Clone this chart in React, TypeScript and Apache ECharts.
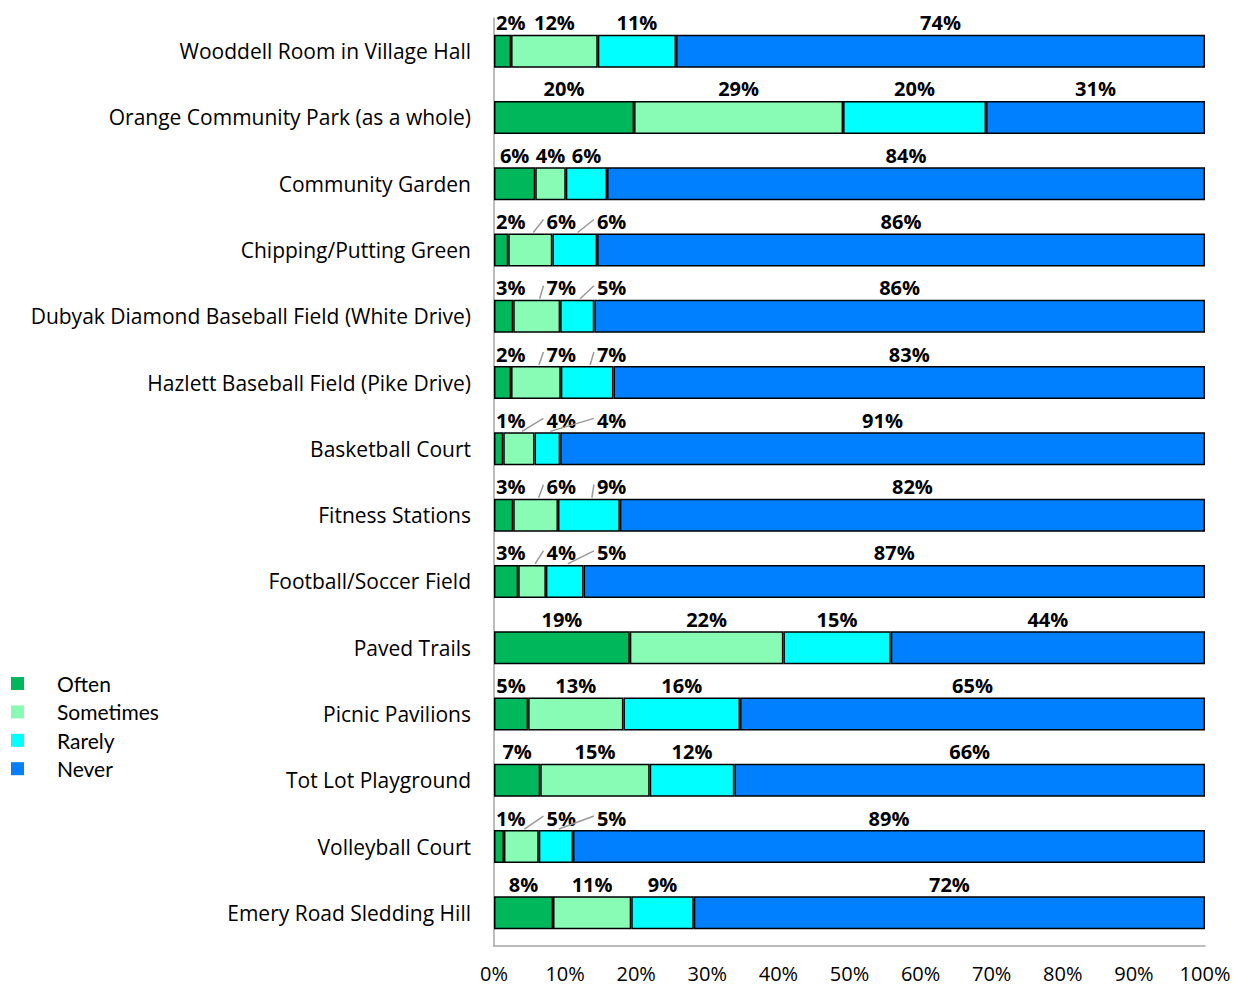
import React, { useEffect, useRef } from "react";
import * as echarts from "echarts";

const categories = [
  "Wooddell Room in Village Hall",
  "Orange Community Park (as a whole)",
  "Community Garden",
  "Chipping/Putting Green",
  "Dubyak Diamond Baseball Field (White Drive)",
  "Hazlett Baseball Field (Pike Drive)",
  "Basketball Court",
  "Fitness Stations",
  "Football/Soccer Field",
  "Paved Trails",
  "Picnic Pavilions",
  "Tot Lot Playground",
  "Volleyball Court",
  "Emery Road Sledding Hill",
];

const seriesNames = ["Often", "Sometimes", "Rarely", "Never"];
const often = [2.4, 19.7, 5.8, 2.0, 2.7, 2.4, 1.3, 2.7, 3.4, 19.1, 4.8, 6.5, 1.4, 8.3];
const sometimes = [12.2, 29.4, 4.3, 6.2, 6.6, 7.0, 4.4, 6.3, 3.9, 21.6, 13.4, 15.4, 4.9, 11.0];
const rarely = [11.0, 20.1, 5.8, 6.3, 4.8, 7.4, 3.6, 8.7, 5.3, 15.1, 16.4, 11.9, 4.8, 8.8];
const never = [74.4, 30.8, 84.1, 85.5, 85.9, 83.2, 90.7, 82.3, 87.4, 44.2, 65.4, 66.2, 88.9, 71.9];
const xTicks = [0, 10, 20, 30, 40, 50, 60, 70, 80, 90, 100];

const colors = ["#00B85C", "#88FBB4", "#00FFFF", "#007FFF"];
const values = [often, sometimes, rarely, never];

const BAR_H = 33;
const LABEL_FONT = 'bold 20px "Open Sans"';

let measureCtx: CanvasRenderingContext2D | null = null;
function measure(text: string): number {
  if (!measureCtx) {
    const c = document.createElement("canvas");
    measureCtx = c.getContext("2d");
  }
  if (!measureCtx) return text.length * 11;
  measureCtx.font = LABEL_FONT;
  return measureCtx.measureText(text).width;
}

export default function App() {
  const ref = useRef<HTMLDivElement>(null);

  useEffect(() => {
    if (!ref.current) return;
    const chart = echarts.init(ref.current, undefined, { renderer: "svg" });

    const barSeries = seriesNames.map((name, k) => ({
      name,
      type: "bar",
      stack: "total",
      barWidth: BAR_H,
      data: values[k],
      itemStyle: { color: colors[k], borderColor: "#000", borderWidth: 1.5 },
      label: { show: false },
      emphasis: { disabled: true },
    }));

    const labelSeries = {
      type: "custom",
      silent: true,
      z: 10,
      encode: { x: 0, y: 1 },
      data: categories.map((_, i) => [0, i]),
      renderItem: (params: any, api: any) => {
        const i = params.dataIndex;
        const base = api.coord([0, i]);
        const yc = base[1];
        const barTop = yc - BAR_H / 2;
        const ty = barTop - 12;
        const children: any[] = [];
        let prevRight = base[0] + 2;
        let cum = 0;
        for (let k = 0; k < values.length; k++) {
          const v = values[k][i];
          const c = api.coord([cum + v / 2, i])[0];
          cum += v;
          const text = Math.round(v) + "%";
          const w = measure(text);
          let left = c - w / 2;
          let line = false;
          if (k === 0) {
            left = Math.max(left, prevRight);
          } else if (left < prevRight + 4) {
            left = prevRight + 21;
            line = true;
          }
          if (line) {
            children.push({
              type: "line",
              shape: { x1: c + 3, y1: barTop - 1, x2: left - 3, y2: ty - 2 },
              style: { stroke: "#999999", lineWidth: 1.5 },
            });
          }
          children.push({
            type: "text",
            x: left,
            y: ty,
            style: {
              text,
              fill: "#000",
              font: LABEL_FONT,
              align: "left",
              verticalAlign: "middle",
            },
          });
          prevRight = left + w;
        }
        return { type: "group", children };
      },
    };

    chart.setOption({
      animation: false,
      backgroundColor: "#fff",
      grid: { left: 494, right: 33, top: 18, bottom: 40 },
      legend: {
        data: seriesNames,
        orient: "vertical",
        left: 6,
        top: 668,
        icon: "rect",
        itemWidth: 13,
        itemHeight: 13,
        itemGap: 7.4,
        itemStyle: { borderWidth: 0 },
        selectedMode: false,
        textStyle: {
          fontSize: 21,
          fontFamily: "Lato",
          color: "#000",
          lineHeight: 20,
          padding: [0, 0, 0, 28],
        },
      },
      xAxis: {
        type: "value",
        min: xTicks[0],
        max: xTicks[xTicks.length - 1],
        interval: xTicks[1] - xTicks[0],
        axisLine: { show: true, lineStyle: { color: "#A6A6A6", width: 1.5 } },
        axisTick: { show: false },
        splitLine: { show: false },
        axisLabel: {
          formatter: "{value}%",
          margin: 19,
          lineHeight: 16,
          color: "#000",
          fontSize: 20,
          fontFamily: "Open Sans",
        },
      },
      yAxis: {
        type: "category",
        data: categories,
        inverse: true,
        axisLine: { show: true, lineStyle: { color: "#A6A6A6", width: 1.5 } },
        axisTick: { show: false },
        axisLabel: {
          margin: 23,
          color: "#000",
          fontSize: 21,
          fontFamily: "Open Sans",
        },
      },
      series: [...barSeries, labelSeries],
    });

    return () => chart.dispose();
  }, []);

  return (
    <div
      ref={ref}
      style={{ position: "absolute", left: 0, top: 0, width: 1238, height: 986 }}
    />
  );
}
